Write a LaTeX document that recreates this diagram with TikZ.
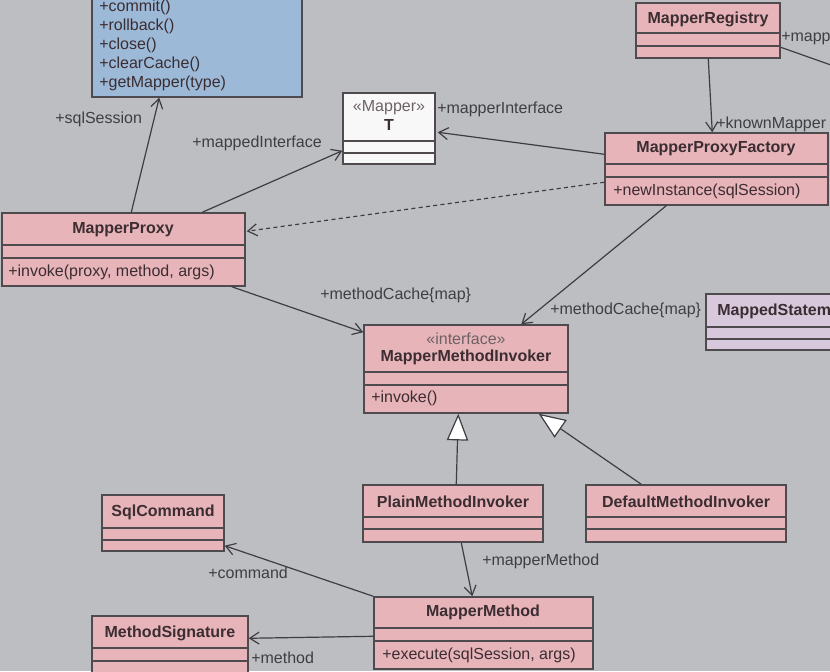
\documentclass[tikz,border=0pt]{standalone}
\usepackage{fontspec}
\setmainfont{Liberation Sans}
\usetikzlibrary{arrows.meta,fit,calc}

\definecolor{wall}{HTML}{BDBEC1}
\definecolor{rose}{HTML}{E7B4B9}
\definecolor{sky}{HTML}{9CB9D8}
\definecolor{lilac}{HTML}{D8C8DC}
\definecolor{paper}{HTML}{F8F8F8}
\definecolor{edge}{HTML}{4E4A4D}
\definecolor{wire}{HTML}{3E3E42}
\definecolor{ink}{HTML}{3B2D31}
\definecolor{note}{HTML}{3F3F43}
\definecolor{stereo}{HTML}{6E6266}

\begin{document}
\begin{tikzpicture}[x=0.75pt, y=-0.75pt,
	every node/.style={font=\fontsize{12}{14.25}\selectfont, text=ink, inner sep=0pt},
	box/.style={draw=edge, line width=1.1pt, inner sep=0pt},
	sep/.style={draw=edge, line width=1.1pt},
	title/.style={font=\fontsize{12}{14.25}\selectfont\bfseries},
	member/.style={anchor=west},
	stereotype/.style={text=stereo},
	role/.style={anchor=west, text=note},
	assoc/.style={draw=wire, line width=0.9pt, -{Straight Barb[length=7pt,width=9pt]}},
	realize/.style={assoc, dash pattern=on 3pt off 2.5pt},
	inherit/.style={draw=wire, line width=0.9pt, -{Triangle[fill=white, length=20pt, width=16pt]}}]
	\useasboundingbox (0,0) rectangle (830,671);
	\fill[wall] (0,0) rectangle (830,671);
	\clip (0,0) rectangle (830,671);

	% class boxes
	\node[box, fill=sky, fit={(92,-5) (302,97)}] (session) {};
	\node[member, align=left] (session-m) at (99,45) {+commit()\\+rollback()\\+close()\\+clearCache()\\+getMapper(type)};

	\node[box, fill=paper, fit={(343,93) (435,164)}] (mapper) {};
	\node[stereotype] (mapper-s) at (389,108) {«Mapper»};
	\node[title] (mapper-t) at (389,125) {T};
	\draw[sep] (mapper.west |- 0,141) -- (mapper.east |- 0,141);
	\draw[sep] (mapper.west |- 0,153) -- (mapper.east |- 0,153);

	\node[box, fill=rose, fit={(636,3) (780,58)}] (registry) {};
	\node[title] (registry-t) at (708,19) {MapperRegistry};
	\draw[sep] (registry.west |- 0,33) -- (registry.east |- 0,33);
	\draw[sep] (registry.west |- 0,46) -- (registry.east |- 0,46);

	\node[box, fill=rose, fit={(605,133) (828,205)}] (factory) {};
	\node[title] (factory-t) at (716,149) {MapperProxyFactory};
	\draw[sep] (factory.west |- 0,164) -- (factory.east |- 0,164);
	\draw[sep] (factory.west |- 0,177) -- (factory.east |- 0,177);
	\node[member] (factory-m) at (613,191) {+newInstance(sqlSession)};

	\node[box, fill=rose, fit={(2,213) (245,286)}] (proxy) {};
	\node[title] (proxy-t) at (123,230) {MapperProxy};
	\draw[sep] (proxy.west |- 0,245) -- (proxy.east |- 0,245);
	\draw[sep] (proxy.west |- 0,258) -- (proxy.east |- 0,258);
	\node[member] (proxy-m) at (8,272) {+invoke(proxy, method, args)};

	\node[box, fill=rose, fit={(364,325) (568,413)}] (invoker) {};
	\node[stereotype] (invoker-s) at (466,339) {«interface»};
	\node[title] (invoker-t) at (466,357) {MapperMethodInvoker};
	\draw[sep] (invoker.west |- 0,372) -- (invoker.east |- 0,372);
	\draw[sep] (invoker.west |- 0,385) -- (invoker.east |- 0,385);
	\node[member] (invoker-m) at (371,398) {+invoke()};

	\node[box, fill=lilac, fit={(706,294) (845,350)}] (mapped) {};
	\node[title, anchor=west] (mapped-t) at (717,311) {MappedStatem};
	\draw[sep] (mapped.west |- 0,327) -- (mapped.east |- 0,327);
	\draw[sep] (mapped.west |- 0,339) -- (mapped.east |- 0,339);

	\node[box, fill=rose, fit={(363,485) (543,542)}] (plain) {};
	\node[title] (plain-t) at (453,502) {PlainMethodInvoker};
	\draw[sep] (plain.west |- 0,517) -- (plain.east |- 0,517);
	\draw[sep] (plain.west |- 0,529) -- (plain.east |- 0,529);

	\node[box, fill=rose, fit={(586,485) (786,542)}] (default) {};
	\node[title] (default-t) at (686,502) {DefaultMethodInvoker};
	\draw[sep] (default.west |- 0,517) -- (default.east |- 0,517);
	\draw[sep] (default.west |- 0,529) -- (default.east |- 0,529);

	\node[box, fill=rose, fit={(102,495) (224,551)}] (command) {};
	\node[title] (command-t) at (163,512) {SqlCommand};
	\draw[sep] (command.west |- 0,528) -- (command.east |- 0,528);
	\draw[sep] (command.west |- 0,540) -- (command.east |- 0,540);

	\node[box, fill=rose, fit={(92,616) (248,685)}] (signature) {};
	\node[title] (signature-t) at (170,633) {MethodSignature};
	\draw[sep] (signature.west |- 0,648) -- (signature.east |- 0,648);
	\draw[sep] (signature.west |- 0,661) -- (signature.east |- 0,661);

	\node[box, fill=rose, fit={(374,597) (593,669)}] (method) {};
	\node[title] (method-t) at (483,612) {MapperMethod};
	\draw[sep] (method.west |- 0,628) -- (method.east |- 0,628);
	\draw[sep] (method.west |- 0,641) -- (method.east |- 0,641);
	\node[member] (method-m) at (382,655) {+execute(sqlSession, args)};

	% connectors
	\coordinate (config) at (845,70);
	\draw[draw=wire, line width=0.9pt] ($(registry.north east)+(0,45)$) -- (config);
	\node[role] (registry-r) at (781,39) {+mapp};

	\draw[assoc] ($(registry.south west)+(73,0)$) -- ($(factory.north west)+(108,0)$);
	\node[role] (factory-r) at (716,124) {+knownMapper};

	\draw[assoc] ($(factory.north west)+(0,22)$) -- ($(mapper.north east)+(2,40)$);
	\node[role] (mapper-r1) at (437,109) {+mapperInterface};

	\draw[realize] ($(factory.north west)+(0,50)$) -- ($(proxy.north east)+(1,19)$);

	\draw[assoc] ($(proxy.north west)+(130,0)$) -- ($(session.south west)+(68,0)$);
	\node[role] (session-r) at (55,119) {+sqlSession};

	\draw[assoc] ($(proxy.north west)+(201,0)$) -- ($(mapper.south west)+(0,-14)$);
	\node[role] (mapper-r2) at (192,143) {+mappedInterface};

	\draw[assoc] ($(proxy.south east)+(-14,0)$) -- ($(invoker.north west)+(0,8)$);
	\node[role] (invoker-r1) at (320,295) {+methodCache\{map\}};

	\draw[assoc] ($(factory.south west)+(62,0)$) -- ($(invoker.north west)+(158,0)$);
	\node[role] (invoker-r2) at (550,310) {+methodCache\{map\}};

	\draw[inherit] ($(plain.north west)+(94,0)$) -- ($(invoker.south west)+(95,0)$);
	\draw[inherit] ($(default.north west)+(56,0)$) -- ($(invoker.south east)+(-30,0)$);

	\draw[assoc] ($(plain.south west)+(99,0)$) -- ($(method.north west)+(99,0)$);
	\node[role] (method-r) at (482,561) {+mapperMethod};

	\draw[assoc] (method.north west) -- ($(command.south east)+(0,-6)$);
	\node[role] (command-r) at (208,573) {+command};

	\draw[assoc] ($(method.north west)+(0,40)$) -- ($(signature.north east)+(0,23)$);
	\node[role] (signature-r) at (251,658) {+method};
\end{tikzpicture}
\end{document}
